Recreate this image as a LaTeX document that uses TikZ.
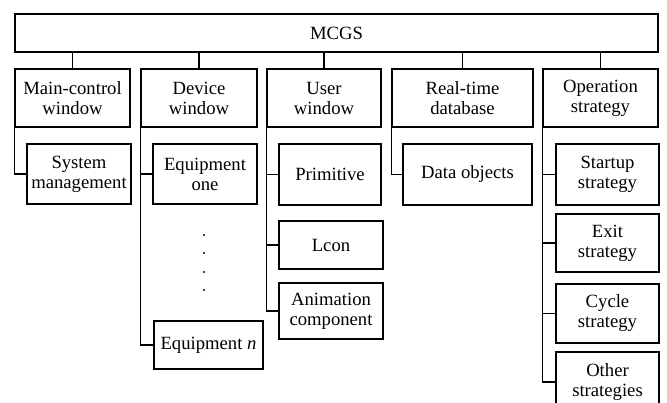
\documentclass[tikz,border=0pt]{standalone}
\usepackage{fontspec}
\setmainfont{Liberation Serif}
\usepackage{tikz}
\usetikzlibrary{positioning,calc}

\begin{document}
\begin{tikzpicture}[
        x=0.75pt, y=-0.75pt,
        font=\fontsize{14}{15}\selectfont,
        box/.style={
          draw=black,
          line width=1pt,
          align=center,
          inner sep=0pt
        },
        top/.style={box, minimum height=58*0.75pt},
        leaf/.style={box, minimum width=104*0.75pt},
        link/.style={line width=1pt, draw=black}
      ]
        \useasboundingbox (0,0) rectangle (667,403);
        \clip (0,0) rectangle (667,403);

        \node[box, minimum width=643*0.75pt, minimum height=38*0.75pt] (mcgs) at (336.5,33) {MCGS};

        \node[top, minimum width=115*0.75pt] (main) at (72.5,98) {Main-control\\window};
        \node[top, minimum width=116*0.75pt] (device) at (199,98) {Device\\window};
        \node[top, minimum width=114*0.75pt] (user) at (324,98) {User\\window};
        \node[top, minimum width=141*0.75pt] (rtdb) at (462.5,98) {Real-time\\database};
        \node[top, minimum width=115*0.75pt] (oper) at (600.5,98) {Operation\\strategy};

        \node[leaf, minimum height=60*0.75pt] (sysman) at (79,174) {System\\management};
        \node[leaf, minimum height=60*0.75pt] (eqone) at (205,174) {Equipment\\one};
        \node[leaf, minimum width=109*0.75pt, minimum height=48*0.75pt] (eqn) at (208.5,345) {Equipment \textit{n}};
        \node[leaf, minimum width=102*0.75pt, minimum height=61*0.75pt] (prim) at (330,174.5) {Primitive};
        \node[leaf, minimum height=48*0.75pt] (lcon) at (331,245) {Lcon};
        \node[leaf, minimum height=56*0.75pt] (anim) at (331,311) {Animation\\component};
        \node[leaf, minimum width=129*0.75pt, minimum height=61*0.75pt] (dataobj) at (467.5,174.5) {Data objects};
        \node[leaf, minimum width=103*0.75pt, minimum height=61*0.75pt] (startup) at (607.5,174.5) {Startup\\strategy};
        \node[leaf, minimum width=103*0.75pt, minimum height=58*0.75pt] (exit) at (607.5,243) {Exit\\strategy};
        \node[leaf, minimum width=103*0.75pt, minimum height=59*0.75pt] (cycle) at (607.5,313.5) {Cycle\\strategy};
        \node[leaf, minimum width=103*0.75pt, minimum height=60*0.75pt] (other) at (607.5,382) {Other\\strategies};

        \foreach \n in {main,device,user,rtdb,oper}
          \draw[link] (\n.north) -- (\n.north |- mcgs.south);

        \draw[link] (main.south west) |- (sysman.west);
        \draw[link] (device.south west) |- (eqone.west);
        \draw[link] (device.south west) |- (eqn.west);
        \draw[link] (user.south west) |- (prim.west);
        \draw[link] (user.south west) |- (lcon.west);
        \draw[link] (user.south west) |- (anim.west);
        \draw[link] (rtdb.south west) |- (dataobj.west);
        \foreach \n in {startup,exit,cycle,other}
          \draw[link] (oper.south west) |- (\n.west);

        \foreach \y in {235,253,272,290}
          \fill (204,\y) circle (1.2);
      \end{tikzpicture}
\end{document}
